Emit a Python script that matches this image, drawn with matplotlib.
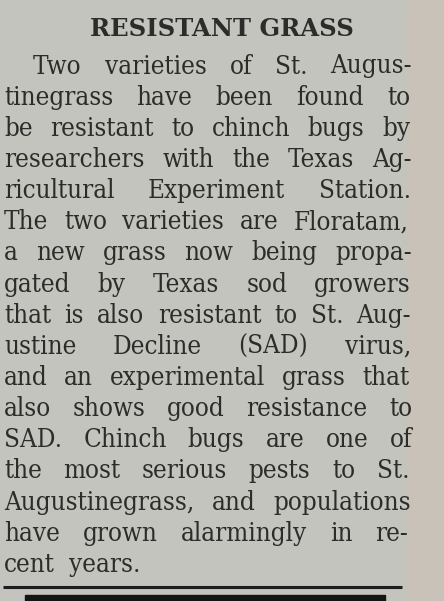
import numpy as np
import matplotlib
matplotlib.use("Agg")
import matplotlib.pyplot as plt
from matplotlib.patches import Rectangle
from matplotlib import font_manager as fm

W, H = 444, 601

title = "RESISTANT GRASS"
lines = [
    "Two varieties of St. Augus-",
    "tinegrass have been found to",
    "be resistant to chinch bugs by",
    "researchers with the Texas Ag-",
    "ricultural Experiment Station.",
    "The two varieties are Floratam,",
    "a new grass now being propa-",
    "gated by Texas sod growers",
    "that is also resistant to St. Aug-",
    "ustine Decline (SAD) virus,",
    "and an experimental grass that",
    "also shows good resistance to",
    "SAD. Chinch bugs are one of",
    "the most serious pests to St.",
    "Augustinegrass, and populations",
    "have grown alarmingly in re-",
    "cent years.",
]
# right edge of each justified line (last line is left aligned)
right_edge = [412, 410, 410, 412, 411, 409, 412, 411, 411, 411, 409, 412, 412, 409, 411, 408, None]

paper = "#c4c4be"
ink = "#2c2c2a"

# condensed DejaVu if the system has it, else plain
fp = fm.FontProperties(family="DejaVu Serif", stretch="condensed")
if "Condensed" in fm.findfont(fp):
    body = dict(family="DejaVu Serif", fontstretch="condensed")
    fs = 18.6
else:
    body = dict(family="DejaVu Serif")
    fs = 16.5

fig = plt.figure(figsize=(W / 100, H / 100), dpi=100)
fig.patch.set_facecolor(paper)
ax = fig.add_axes([0, 0, 1, 1])
ax.set_xlim(0, W)
ax.set_ylim(H, 0)
ax.axis("off")

# slightly warmer strip at the right edge of the clipping
ax.add_patch(Rectangle((406, 0), W - 406, H, color="#c8c2b8", zorder=0))

ax.text(222, 29, title, ha="center", va="center", fontsize=17.5,
        fontweight="bold", family="DejaVu Serif", color=ink)

renderer = fig.canvas.get_renderer()
y0, dy = 66, 31.15
for i, line in enumerate(lines):
    y = y0 + i * dy
    left = 33 if i == 0 else 4
    words = line.split(" ")
    arts = []
    for wd in words:
        t = ax.text(0, y, wd, ha="left", va="center", fontsize=fs,
                    color=ink, **body)
        arts.append(t)
    widths = [a.get_window_extent(renderer).width for a in arts]
    if right_edge[i] is None:
        gap = 14
    else:
        gap = (right_edge[i] - left - sum(widths)) / max(len(words) - 1, 1)
    x = left
    for a, wdt in zip(arts, widths):
        a.set_x(x)
        x += wdt + gap

# rule under the story and the dark bar of the next item
ax.plot([3, 402], [587, 587], color="#1e1e1e", lw=2.2, solid_capstyle="butt")
ax.add_patch(Rectangle((25, 595), 360, 8, color="#141414"))

fig.savefig("out.png", dpi=100, facecolor=fig.get_facecolor())
